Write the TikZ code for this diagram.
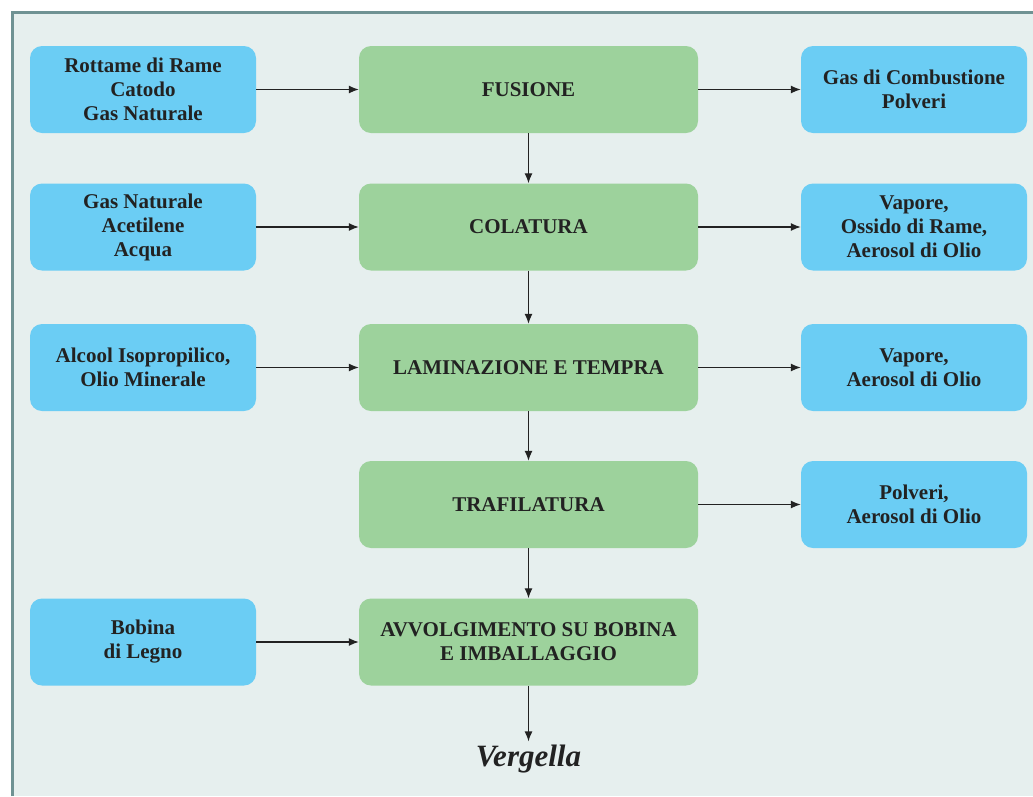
\documentclass[tikz,border=0pt]{standalone}
\usepackage{fontspec}
\setmainfont{Liberation Serif}
\usetikzlibrary{arrows.meta}
\definecolor{panelbg}{HTML}{E6EFEE}
\definecolor{panelrule}{HTML}{6F9293}
\definecolor{stepgreen}{HTML}{9DD29C}
\definecolor{flowblue}{HTML}{6BCDF4}
\definecolor{inktext}{HTML}{222222}
\tikzset{
  box/.style={rounded corners=12pt, minimum height=87pt, inner sep=2pt,
    align=center, text=inktext, font=\bfseries\fontsize{21}{24}\selectfont},
  sidebox/.style={box, fill=flowblue, minimum width=226pt},
  stepbox/.style={box, fill=stepgreen, minimum width=339pt},
  flow/.style={-{Latex[length=10pt,width=8pt]}, line width=1.3pt, draw=inktext}
}
\begin{document}
\begin{tikzpicture}[x=1pt,y=-1pt]
  \useasboundingbox (0,0) rectangle (1033,796);
  \fill[panelbg] (12,12) rectangle (1033,796);
  \draw[panelrule, line width=3pt] (12,796) -- (12,12) -- (1033,12);
  % process steps
  \draw
    (528.5,89.5) node[stepbox] (fus){FUSIONE}
    (528.5,227) node[stepbox] (col){COLATURA}
    (528.5,367.5) node[stepbox] (lam){LAMINAZIONE E TEMPRA}
    (528.5,504.5) node[stepbox] (tra){TRAFILATURA}
    (528.5,642) node[stepbox] (avv){AVVOLGIMENTO SU BOBINA\\E IMBALLAGGIO};
  % inputs
  \draw
    (143,89.5) node[sidebox] (in1){Rottame di Rame\\Catodo\\Gas Naturale}
    (143,227) node[sidebox] (in2){Gas Naturale\\Acetilene\\Acqua}
    (143,367.5) node[sidebox] (in3){Alcool Isopropilico,\\Olio Minerale}
    (143,642) node[sidebox] (in5){Bobina\\di Legno};
  % outputs
  \draw
    (914,89.5) node[sidebox] (out1){Gas di Combustione\\Polveri}
    (914,227) node[sidebox] (out2){Vapore,\\Ossido di Rame,\\Aerosol di Olio}
    (914,367.5) node[sidebox] (out3){Vapore,\\Aerosol di Olio}
    (914,504.5) node[sidebox] (out4){Polveri,\\Aerosol di Olio};
  \node[text=inktext, font=\bfseries\itshape\fontsize{31}{34}\selectfont]
    (verg) at (528.5,759) {Vergella};
  \begin{scope}[flow]
    \draw (in1) to (fus);
    \draw (in2) to (col);
    \draw (in3) to (lam);
    \draw (in5) to (avv);
    \draw (fus) to (out1);
    \draw (col) to (out2);
    \draw (lam) to (out3);
    \draw (tra) to (out4);
    \draw (fus) to (col);
    \draw (col) to (lam);
    \draw (lam) to (tra);
    \draw (tra) to (avv);
    \draw (avv) to (verg);
  \end{scope}
\end{tikzpicture}
\end{document}
